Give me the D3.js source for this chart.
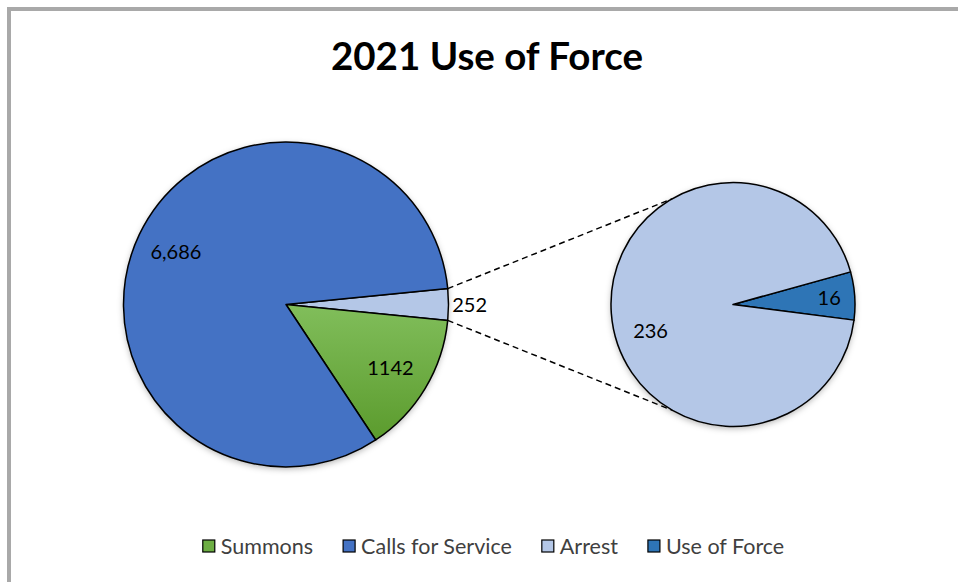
<!DOCTYPE html>
<html lang="en">
<head>
    <meta charset="UTF-8">
    <title>2021 Use of Force</title>
    <script src="https://d3js.org/d3.v7.min.js"></script>
    <style>
        body { margin: 0; background: #fff; }
        text { font-family: Lato, "Open Sans", sans-serif; fill: #000; }
    </style>
</head>
<body>
    <svg width="958" height="582"></svg>
    <script>
        // Data
        const mainCategories = ["Arrest", "Summons", "Calls for Service"];
        const mainValues = [252, 1142, 6686];
        const mainLabels = ["252", "1142", "6,686"];

        const subCategories = ["Use of Force", "Arrest"];
        const subValues = [16, 236];
        const subLabels = ["16", "236"];

        const legendItems = ["Summons", "Calls for Service", "Arrest", "Use of Force"];

        const colors = {
            "Summons": "url(#greenGrad)",
            "Calls for Service": "#4472C4",
            "Arrest": "#B4C7E7",
            "Use of Force": "#2E75B6"
        };
        const legendColors = {
            "Summons": "#6DAE43",
            "Calls for Service": "#4472C4",
            "Arrest": "#B4C7E7",
            "Use of Force": "#2E75B6"
        };

        const svg = d3.select("svg");

        const defs = svg.append("defs");
        const grad = defs.append("linearGradient")
            .attr("id", "greenGrad")
            .attr("x1", 0).attr("y1", 0).attr("x2", 0).attr("y2", 1);
        grad.append("stop").attr("offset", "0%").attr("stop-color", "#81BE5B");
        grad.append("stop").attr("offset", "100%").attr("stop-color", "#5B9B2D");

        const shadow = defs.append("filter")
            .attr("id", "shadow")
            .attr("x", "-20%").attr("y", "-20%")
            .attr("width", "140%").attr("height", "140%");
        shadow.append("feDropShadow")
            .attr("dx", 0).attr("dy", 2)
            .attr("stdDeviation", 3)
            .attr("flood-color", "#000")
            .attr("flood-opacity", 0.3);

        // Frame (only top and left edges visible)
        svg.append("path")
            .attr("d", "M9,582 V9 H958")
            .attr("fill", "none")
            .attr("stroke", "#A9A9A9")
            .attr("stroke-width", 4);

        // Title
        svg.append("text")
            .attr("x", 487)
            .attr("y", 70)
            .attr("text-anchor", "middle")
            .style("font-size", "38.5px")
            .style("font-weight", "bold")
            .text("2021 Use of Force");

        // Main pie
        const mainCx = 286, mainCy = 304.5, mainR = 162.5;
        const mainTotal = d3.sum(mainValues);
        const mainStart = Math.PI / 2 - Math.PI * mainValues[0] / mainTotal;

        const mainPie = d3.pie().sort(null)
            .startAngle(mainStart)
            .endAngle(mainStart + 2 * Math.PI);
        const mainArcs = mainPie(mainValues);

        const mainArc = d3.arc().innerRadius(0).outerRadius(mainR);
        const mainLabelArc = d3.arc().innerRadius(mainR * 0.75).outerRadius(mainR * 0.75);

        const gMain = svg.append("g")
            .attr("transform", `translate(${mainCx},${mainCy})`);

        gMain.append("circle")
            .attr("r", mainR)
            .attr("fill", "#fff")
            .attr("filter", "url(#shadow)");

        gMain.selectAll("path.slice")
            .data(mainArcs)
            .join("path")
            .attr("class", "slice")
            .attr("d", mainArc)
            .attr("fill", (d, i) => colors[mainCategories[i]])
            .attr("stroke", "#000")
            .attr("stroke-width", 1.5)
            .attr("stroke-linejoin", "round");

        gMain.selectAll("text.lbl")
            .data(mainArcs)
            .join("text")
            .attr("class", "lbl")
            .attr("transform", (d, i) => {
                if (i === 0) {
                    const a = (d.startAngle + d.endAngle) / 2;
                    const rr = mainR * 1.13;
                    return `translate(${Math.sin(a) * rr},${-Math.cos(a) * rr})`;
                }
                return `translate(${mainLabelArc.centroid(d)})`;
            })
            .attr("text-anchor", "middle")
            .attr("dy", "0.36em")
            .style("font-size", "20px")
            .text((d, i) => mainLabels[i]);

        // Secondary pie
        const subCx = 733, subCy = 304.5, subR = 122;
        const subStart = 74.5 * Math.PI / 180;

        const subPie = d3.pie().sort(null)
            .startAngle(subStart)
            .endAngle(subStart + 2 * Math.PI);
        const subArcs = subPie(subValues);

        const subArc = d3.arc().innerRadius(0).outerRadius(subR);

        const gSub = svg.append("g")
            .attr("transform", `translate(${subCx},${subCy})`);

        gSub.append("circle")
            .attr("r", subR)
            .attr("fill", "#fff")
            .attr("filter", "url(#shadow)");

        gSub.selectAll("path.slice")
            .data(subArcs)
            .join("path")
            .attr("class", "slice")
            .attr("d", subArc)
            .attr("fill", (d, i) => colors[subCategories[i]])
            .attr("stroke", "#000")
            .attr("stroke-width", 1.5)
            .attr("stroke-linejoin", "round");

        const subLabelR = [0.79, 0.71];
        gSub.selectAll("text.lbl")
            .data(subArcs)
            .join("text")
            .attr("class", "lbl")
            .attr("transform", (d, i) => {
                const a = (d.startAngle + d.endAngle) / 2 + (i === 1 ? -0.24 : 0);
                const rr = subR * subLabelR[i];
                return `translate(${Math.sin(a) * rr},${-Math.cos(a) * rr})`;
            })
            .attr("text-anchor", "middle")
            .attr("dy", "0.36em")
            .style("font-size", "20px")
            .text((d, i) => subLabels[i]);

        // Connector lines from the "other" slice to the secondary pie
        const other = mainArcs[0];
        const pt = (cx, cy, r, a) => [cx + Math.sin(a) * r, cy - Math.cos(a) * r];
        const connectors = [
            [pt(mainCx, mainCy, mainR, other.startAngle), pt(subCx, subCy, subR, -Math.PI / 6)],
            [pt(mainCx, mainCy, mainR, other.endAngle), pt(subCx, subCy, subR, Math.PI * 7 / 6)]
        ];
        svg.append("g")
            .selectAll("line")
            .data(connectors)
            .join("line")
            .attr("x1", d => d[0][0])
            .attr("y1", d => d[0][1])
            .attr("x2", d => d[1][0])
            .attr("y2", d => d[1][1])
            .attr("stroke", "#000")
            .attr("stroke-width", 1.5)
            .attr("stroke-dasharray", "6,4");

        // Legend
        const legend = svg.append("g").attr("transform", "translate(0,546)");
        const items = legend.selectAll("g.item")
            .data(legendItems)
            .join("g")
            .attr("class", "item");
        items.append("rect")
            .attr("x", 0).attr("y", -6)
            .attr("width", 12).attr("height", 12)
            .attr("fill", d => legendColors[d])
            .attr("stroke", "#000")
            .attr("stroke-width", 1.2);
        items.append("text")
            .attr("x", 18)
            .attr("dy", "0.36em")
            .style("font-size", "21.5px")
            .style("fill", "#404040")
            .text(d => d);

        const widths = [];
        items.each(function () {
            widths.push(18 + d3.select(this).select("text").node().getComputedTextLength());
        });
        const gap = 30;
        const totalW = d3.sum(widths) + gap * (widths.length - 1);
        let x = 493.5 - totalW / 2;
        items.attr("transform", (d, i) => {
            const t = `translate(${x},0)`;
            x += widths[i] + gap;
            return t;
        });
    </script>
</body>
</html>
